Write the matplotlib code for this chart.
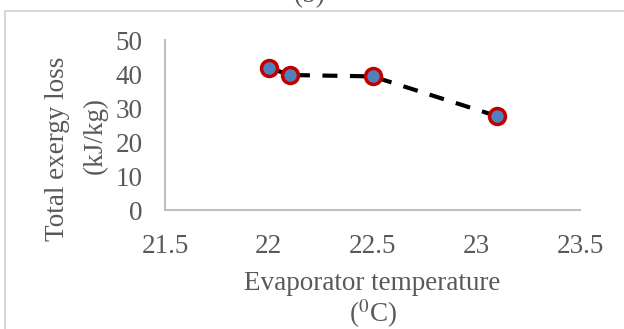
import matplotlib.pyplot as plt
from matplotlib.patches import Rectangle

plt.rcParams['font.family'] = ['Liberation Serif', 'DejaVu Serif']
plt.rcParams['mathtext.fontset'] = 'stix'

# data
evap_temp = [22.0, 22.1, 22.5, 23.1]
exergy_loss = [41.9, 39.7, 39.3, 27.6]
x_ticks = [21.5, 22, 22.5, 23, 23.5]
y_ticks = [0, 10, 20, 30, 40, 50]

txt = '#595959'
grey = '#d0d0d0'

fig = plt.figure(figsize=(6.24, 3.29), dpi=100)
ax = fig.add_axes([165/624, 1-210/329, (580-165)/624, 170/329])

# outer chart frame
fig.patches.append(Rectangle((5/624, -0.1), 1.2, 1-11/329+0.1, transform=fig.transFigure,
                             fill=False, edgecolor=grey, linewidth=1.2))

ax.plot(evap_temp, exergy_loss, color='black', linestyle=(0, (3.6, 3.0)), linewidth=3,
        marker='o', markersize=11.5, markerfacecolor='#4f81bd',
        markeredgecolor='#c00000', markeredgewidth=2.5, zorder=3)

ax.set_xlim(21.5, 23.5)
ax.set_ylim(0, 50)
ax.set_xticks(x_ticks)
ax.set_xticklabels(['21.5', '22', '22.5', '23', '23.5'])
ax.set_yticks(y_ticks)
ax.tick_params(length=0, labelsize=19.5, colors=txt, pad=17)
ax.tick_params(axis='y', pad=16)
for s in ['top', 'right']:
    ax.spines[s].set_visible(False)
for s in ['left', 'bottom']:
    ax.spines[s].set_color('#bfbfbf')
    ax.spines[s].set_linewidth(1.5)

fig.text(372/624, 1-284/329, 'Evaporator temperature', ha='center', va='center',
         fontsize=19.5, color=txt)
fig.text(373/624, 1-314/329, r'($^{0}$C)', ha='center', va='center',
         fontsize=19.5, color=txt)
fig.text(58/624, 1-149/329, 'Total exergy loss', ha='center', va='center',
         rotation=90, fontsize=19.5, color=txt)
fig.text(95/624, 1-135/329, '(kJ/kg)', ha='center', va='center',
         rotation=90, fontsize=19.5, color=txt)
fig.text(310/624, 1-(-4)/329, '(b)', ha='center', va='center',
         fontsize=19.5, color=txt)

fig.savefig('out.png', dpi=100)
